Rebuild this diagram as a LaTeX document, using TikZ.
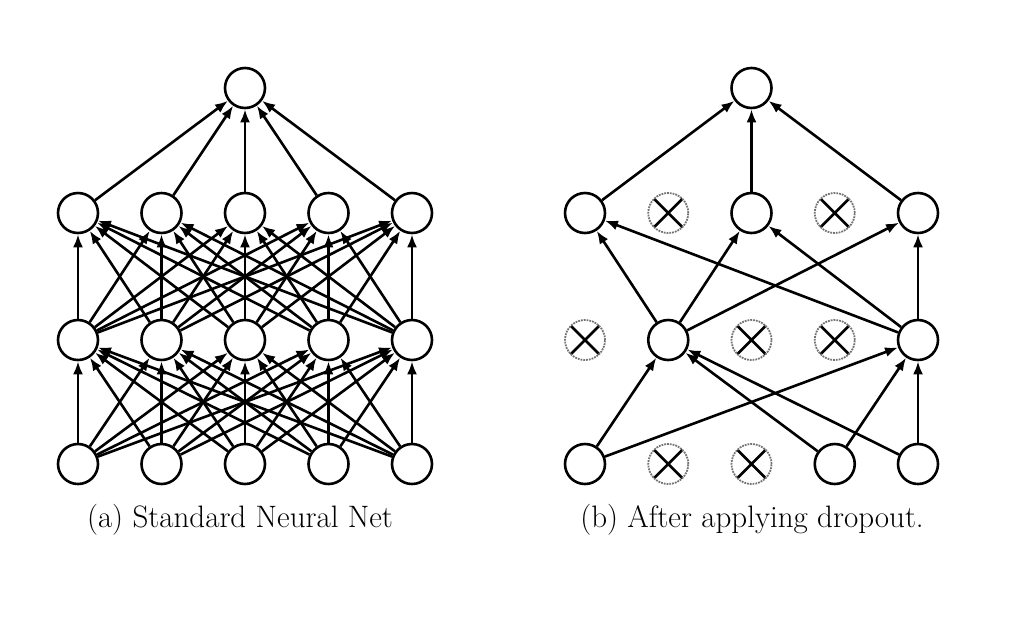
\documentclass[tikz,border=0pt]{standalone}
\usepackage{tikz}
\usetikzlibrary{arrows.meta}

\begin{document}
\begin{tikzpicture}[x=1pt,y=-1pt,
	unit/.style={circle,draw,line width=2.6pt,minimum size=40pt,inner sep=0pt},
	dropped/.style={circle,draw=black!55,densely dotted,line width=1.8pt,minimum size=40pt,inner sep=0pt,
		path picture={\draw[solid,black,line width=2.6pt]
			(path picture bounding box.north west) -- (path picture bounding box.south east)
			(path picture bounding box.north east) -- (path picture bounding box.south west);}},
	conn/.style={-{Latex[length=13pt,width=10pt]},line width=2.6pt},
	caption/.style={font=\fontsize{31}{37}\selectfont}]
	\useasboundingbox (0,0) rectangle (1030,622);
	% (a) standard network
	\foreach \i/\x in {1/78,2/161.5,3/245,4/328.5,5/412}{
		\node[unit] (a-in-\i) at (\x,464) {};
		\node[unit] (a-hone-\i) at (\x,340) {};
		\node[unit] (a-htwo-\i) at (\x,213) {};
	}
	\node[unit] (a-out) at (245,88) {};
	\foreach \i in {1,...,5}{
		\foreach \j in {1,...,5}{
			\draw[conn] (a-in-\i) -- (a-hone-\j);
			\draw[conn] (a-hone-\i) -- (a-htwo-\j);
		}
		\draw[conn] (a-htwo-\i) -- (a-out);
	}
	\node[caption] (cap-a) at (240,520) {(a) Standard Neural Net};
	% (b) thinned network after dropout
	\foreach \i/\x/\s in {1/585/unit,2/668.25/dropped,3/751.5/dropped,4/834.75/unit,5/918/unit}
		\node[\s] (b-in-\i) at (\x,464) {};
	\foreach \i/\x/\s in {1/585/dropped,2/668.25/unit,3/751.5/dropped,4/834.75/dropped,5/918/unit}
		\node[\s] (b-hone-\i) at (\x,340) {};
	\foreach \i/\x/\s in {1/585/unit,2/668.25/dropped,3/751.5/unit,4/834.75/dropped,5/918/unit}
		\node[\s] (b-htwo-\i) at (\x,213) {};
	\node[unit] (b-out) at (751.5,88) {};
	\foreach \i/\j in {1/2,1/5,4/2,4/5,5/2,5/5}
		\draw[conn] (b-in-\i) -- (b-hone-\j);
	\foreach \i in {2,5}
		\foreach \j in {1,3,5}
			\draw[conn] (b-hone-\i) -- (b-htwo-\j);
	\foreach \j in {1,3,5}
		\draw[conn] (b-htwo-\j) -- (b-out);
	\node[caption] (cap-b) at (752,520) {(b) After applying dropout.};
\end{tikzpicture}
\end{document}
